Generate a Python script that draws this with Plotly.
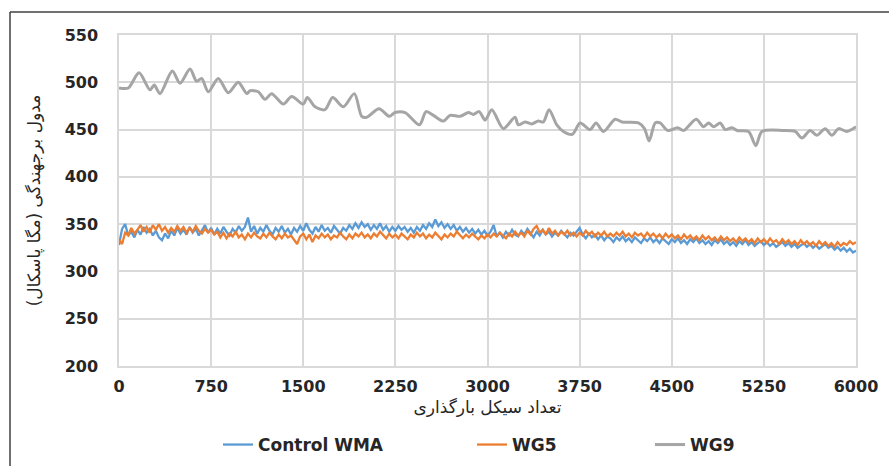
import plotly.graph_objects as go

# ---- data ----
step = 25
control_wma = [
    328, 345, 350, 338, 342, 336, 344, 339, 347, 341,
    345, 338, 343, 336, 333, 340, 335, 343, 338, 346,
    340, 344, 339, 347, 341, 345, 338, 344, 349, 341,
    346, 339, 345, 340, 347, 342, 338, 345, 341, 348,
    343, 347, 357, 342, 348, 340, 346, 342, 349, 343,
    339, 346, 342, 348, 341, 345, 339, 346, 342, 348,
    343, 351, 344, 340, 347, 342, 349, 343, 346, 341,
    348, 344, 340, 346, 343, 349, 345, 351, 346, 352,
    347, 350, 344, 349, 345, 351, 344, 348, 342, 347,
    343, 348, 344, 347, 342, 346, 341, 347, 343, 349,
    345, 351, 347, 355, 348, 352, 346, 350, 345, 349,
    343, 347, 342, 346, 341, 345, 340, 344, 339, 343,
    338, 342, 349, 337, 341, 336, 342, 338, 344, 339,
    337, 343, 339, 345, 340, 336, 342, 338, 344, 339,
    342, 337, 341, 338, 343, 339, 336, 341, 338, 342,
    346, 339, 335, 340, 336, 339, 334, 338, 333, 337,
    335, 331, 336, 333, 337, 332, 335, 331, 336, 333,
    330, 335, 332, 336, 331, 334, 330, 335, 332, 329,
    334, 331, 335, 330, 333, 329, 334, 331, 335, 330,
    333, 329, 332, 328, 333, 330, 334, 329, 332, 328,
    331, 327, 332, 329, 333, 328, 331, 327, 330, 332,
    328, 331, 327, 330, 326, 329, 331, 327, 330, 326,
    329, 325, 328, 330, 326, 329, 325, 328, 324, 327,
    329, 325, 327, 323, 326, 322, 325, 321, 324, 320,
    322,
]
wg5 = [
    334, 329, 341, 338, 346, 340, 344, 349, 342, 347,
    341, 349, 344, 350, 343, 347, 341, 346, 342, 348,
    343, 347, 341, 346, 342, 348, 343, 340, 345, 341,
    344, 339, 342, 336, 341, 335, 340, 337, 342, 336,
    339, 334, 340, 336, 341, 337, 335, 340, 336, 341,
    337, 334, 339, 335, 340, 336, 338, 333, 329, 337,
    340, 334, 339, 331, 338, 335, 340, 336, 339, 334,
    338, 336, 341, 337, 334, 339, 335, 340, 337, 341,
    336, 339, 335, 340, 337, 342, 338, 335, 340, 336,
    339, 335, 340, 337, 334, 339, 336, 341, 337, 340,
    335, 339, 336, 341, 337, 334, 339, 336, 340, 337,
    342, 338, 335, 339, 336, 340, 337, 334, 338, 335,
    339, 336, 340, 337, 341, 338, 335, 340, 337, 342,
    338, 341, 337, 343, 339, 345, 348, 341, 344, 339,
    346, 340, 343, 338, 342, 339, 343, 338, 341, 337,
    341, 338, 343, 339, 342, 337, 341, 338, 342, 337,
    340, 337, 341, 338, 342, 337, 340, 336, 341, 338,
    340, 336, 341, 337, 340, 336, 339, 335, 340, 336,
    339, 335, 338, 334, 339, 335, 338, 334, 337, 333,
    338, 334, 337, 333, 336, 332, 337, 333, 336, 332,
    335, 331, 336, 332, 335, 331, 334, 330, 335, 331,
    334, 330, 335, 331, 333, 329, 334, 330, 333, 329,
    332, 328, 333, 329, 332, 328, 331, 327, 332, 328,
    331, 327, 330, 326, 331, 327, 330, 328, 332, 329,
    331,
]
cycles_cw = [i * step for i in range(len(control_wma))]
cycles_wg5 = [i * step for i in range(len(wg5))]

wg9_cycles = [0, 76, 163, 252, 287, 334, 434, 497, 578, 632, 673, 727, 808, 890, 971,
              1040, 1067, 1134, 1189, 1243, 1338, 1406, 1501, 1533, 1596, 1677, 1740,
              1826, 1916, 1976, 2017, 2117, 2201, 2247, 2329, 2446, 2500, 2560, 2641,
              2695, 2777, 2845, 2885, 2932, 2981, 3035, 3129, 3224, 3251, 3306, 3360,
              3414, 3455, 3501, 3564, 3618, 3691, 3754, 3835, 3884, 3944, 4039, 4094,
              4229, 4278, 4316, 4365, 4405, 4468, 4547, 4596, 4699, 4759, 4800, 4840,
              4895, 4935, 4990, 5031, 5125, 5185, 5234, 5410, 5505, 5560, 5627, 5681,
              5749, 5804, 5858, 5926, 6000]
wg9 = [494, 494, 510, 492, 497, 488, 512, 499, 514, 501, 504, 490, 504, 489, 500,
       488, 491, 490, 482, 488, 477, 485, 477, 484, 474, 471, 484,
       474, 488, 464, 463, 472, 464, 468, 468, 455, 469, 465, 459,
       465, 464, 468, 466, 469, 460, 471, 451, 463, 455, 458, 456,
       459, 458, 471, 455, 448, 445, 457, 450, 457, 448, 461, 458,
       457, 451, 438, 457, 457, 449, 452, 449, 461, 453, 457, 453,
       457, 450, 452, 449, 448, 433, 448, 449, 448, 441, 449, 444,
       451, 444, 451, 448, 453]

x_ticks = [0, 750, 1500, 2250, 3000, 3750, 4500, 5250, 6000]
y_ticks = [200, 250, 300, 350, 400, 450, 500, 550]

x_title = "تعداد سیکل بارگذاری"
y_title = "مدول برجهندگی (مگا پاسکال)"

# ---- figure ----
fig = go.Figure()
fig.add_trace(go.Scatter(x=cycles_cw, y=control_wma, mode="lines", name="Control WMA",
                         line=dict(color="#5B9BD5", width=2.3), legend="legend"))
fig.add_trace(go.Scatter(x=cycles_wg5, y=wg5, mode="lines", name="WG5",
                         line=dict(color="#ED7D31", width=2.3), legend="legend2"))
fig.add_trace(go.Scatter(x=wg9_cycles, y=wg9, mode="lines", name="WG9",
                         line=dict(color="#A5A5A5", width=3, shape="spline", smoothing=0.8),
                         legend="legend3"))

grid = "#D9D9D9"
tick_font = dict(family="DejaVu Sans, sans-serif", size=16, color="#262626", weight="bold")
leg_font = dict(family="DejaVu Sans, sans-serif", size=17, color="#262626", weight="bold")
title_font = dict(family="DejaVu Sans", size=17, color="#262626")

fig.update_xaxes(range=[0, 6000], tickvals=x_ticks, ticktext=[str(v) for v in x_ticks],
                 showgrid=True, gridcolor=grid, gridwidth=1.5,
                 showline=True, linecolor=grid, linewidth=1.5, mirror=True,
                 zeroline=False, tickfont=tick_font, ticks="", ticklabelstandoff=5,
                 automargin=False,
                 title=dict(text=x_title, font=title_font, standoff=6))
fig.update_yaxes(range=[200, 550], tickvals=y_ticks, ticktext=[str(v) for v in y_ticks],
                 showgrid=True, gridcolor=grid, gridwidth=1.5,
                 showline=True, linecolor=grid, linewidth=1.5, mirror=True,
                 zeroline=False, tickfont=tick_font, ticks="", ticklabelstandoff=16,
                 automargin=False,
                 title=dict(text=y_title, font=title_font, standoff=20))

leg_y = (366 - 445) / 331
leg_common = dict(orientation="h", font=leg_font, bgcolor="rgba(0,0,0,0)",
                  xref="paper", yref="paper", yanchor="middle", xanchor="left", y=leg_y)
fig.update_layout(
    width=889, height=466,
    showlegend=True,
    margin=dict(l=119, r=33, t=35, b=100, autoexpand=False),
    paper_bgcolor="white", plot_bgcolor="white",
    legend=dict(x=(218 - 119) / 737, **leg_common),
    legend2=dict(x=(472 - 119) / 737, **leg_common),
    legend3=dict(x=(650 - 119) / 737, **leg_common),
    shapes=[
        dict(type="line", xref="paper", yref="paper",
             x0=(10 - 119) / 737, x1=(10 - 119) / 737, y0=(366 - 12) / 331, y1=(366 - 470) / 331,
             line=dict(color="#404040", width=1.5)),
        dict(type="line", xref="paper", yref="paper",
             x0=(10 - 119) / 737, x1=(895 - 119) / 737, y0=(366 - 12) / 331, y1=(366 - 12) / 331,
             line=dict(color="#404040", width=1.5)),
    ],
)

fig.write_html("out.html")
